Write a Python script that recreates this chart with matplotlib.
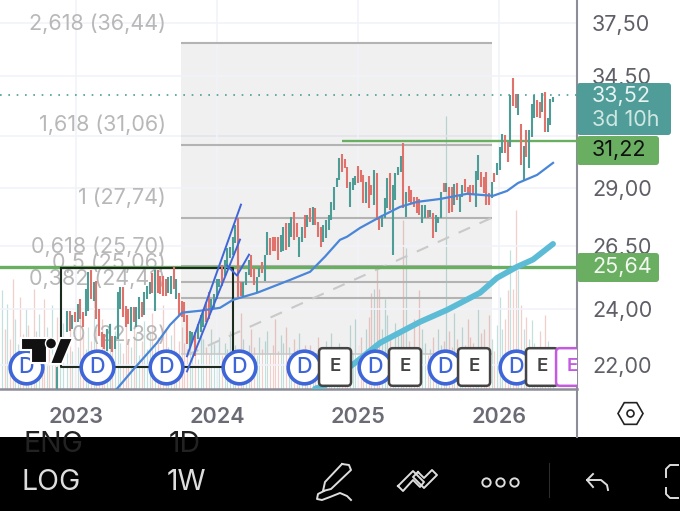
import numpy as np
import matplotlib
matplotlib.use('Agg')
import matplotlib.pyplot as plt
from matplotlib.patches import Polygon, Circle, FancyBboxPatch, Rectangle

plt.rcParams['font.family'] = ['Inter', 'DejaVu Sans']

# weekly bars
highs_a = [23.92,23.92,23.80,23.88,24.18,24.37,23.88,24.75,25.45,25.53,25.02,25.06,23.99,23.15,23.08,23.26,23.44,23.01,23.01,24.67,24.83,24.83,24.10,23.99,24.07,24.07,24.07,24.45,24.26,24.67,24.87,25.02,25.41,25.53,25.53,25.26,25.26,25.14,25.22,25.26,25.65,25.14,24.63,24.29,24.26]
lows_a = [23.15,23.19,23.26,23.51,23.51,23.62,23.33,23.73,23.92,24.37,24.29,23.62,23.01,22.62,22.55,22.48,22.55,22.45,22.55,22.90,23.99,23.69,23.33,23.44,23.19,23.51,23.33,23.62,23.69,23.80,24.37,24.56,24.63,23.92,24.63,24.56,24.48,24.48,24.63,24.56,24.75,24.37,23.73,23.69,23.51]
highs_b = [23.80,23.19,23.15,23.15,23.44,23.80,23.88,24.26,24.67,24.37,24.56,25.14,25.14,25.73,25.93,26.42,26.46,26.87,27.38,27.68,25.02,25.02,25.45,25.93,26.13,25.61,25.22,25.61,25.85,26.13,27.09,26.83,26.87,26.87,26.87,26.96,27.26,27.47,27.47,27.73,27.94,27.47,26.87,27.26,27.81,27.81]
lows_b = [22.72,22.62,22.79,22.30,22.90,23.15,23.33,23.51,23.62,23.88,23.99,24.37,24.83,24.87,25.26,25.61,26.01,26.13,26.62,24.45,24.48,24.48,24.94,25.33,25.22,24.94,24.63,25.22,25.41,25.06,26.13,26.13,26.26,26.26,25.93,26.22,26.26,26.34,26.46,26.87,26.75,26.87,26.05,26.67,26.83,27.26]
highs_c = [28.12,28.16,28.12,27.51,27.26,27.38,27.60,27.81,28.38,29.05,29.46,30.39,30.58,30.34,29.97,29.28,29.46,29.55,30.02,29.83,29.60,29.28,29.55,29.14,29.83,29.69,27.68,27.81,28.56,29.46,29.69,29.14,29.69,29.97,30.49,31.10,28.82,29.09,28.91,28.60,28.60,28.51,28.25,28.25,28.03]
lows_c = [27.51,27.38,27.38,26.87,26.46,26.67,26.83,27.17,27.60,28.03,29.05,29.37,29.74,29.92,29.00,28.16,28.91,29.14,29.23,29.28,28.34,28.34,28.12,28.69,28.25,27.60,27.17,27.26,27.68,28.12,28.03,26.13,28.47,29.60,29.74,28.12,27.73,28.38,28.34,28.16,27.90,27.81,27.47,27.68,27.68]
highs_d = [28.03,27.90,27.81,27.73,28.82,29.23,29.23,29.05,29.05,29.18,29.23,28.69,29.14,29.42,29.05,29.14,29.14,29.78,30.53,29.74,29.51,29.74,28.78,29.28,29.69,30.16,30.91,31.54,31.49,31.15,33.52,34.42,33.57,33.57,32.04,30.96,31.74,31.74,33.05,33.52,33.26,33.16,33.63,33.68,32.34,33.31,33.42]
lows_d = [27.73,26.83,27.05,27.47,27.68,28.82,28.82,27.90,27.94,28.25,28.47,27.94,28.60,28.82,28.69,28.38,28.69,28.16,29.37,29.05,28.78,28.25,28.25,28.56,29.28,29.60,29.83,30.63,30.63,30.20,30.91,32.95,32.85,32.50,30.06,29.37,30.44,29.92,31.40,32.34,32.39,32.34,32.65,31.64,31.64,31.99,33.16]
highs = highs_a + highs_b + highs_c + highs_d
lows = lows_a + lows_b + lows_c + lows_d
directions = ("grgrgrrggr" "grrrrggrgg" "grrrgrggrg" "ggrgrrrrgg" "rgrrr"
              "rggrg" "ggrrggggrg" "ggggrrgggr" "rggrggrrrr" "ggrggrrggr" "g"
              "rgrrrgggg" "gggrrrgggr" "rrgrrgrrgg" "grggggrgrr" "rrrggr"
              "grgg" "grgrrgrggr" "rrrggrrrrg" "rgggrrgrrg" "rgrgggrrgr" "ggg")
volumes = [45,60,38,50,42,75,55,40,62,48,90,60,35,70,52,44,66,38,58,80,46,36,72,50,42,64,56,34,48,68,40,58,76,44,52,36,84,60,42,54,70,38,48,62,46,
           40,55,35,48,30,65,50,42,35,60,45,38,52,34,46,40,58,32,44,36,76,50,38,44,60,42,34,52,40,48,58,36,44,70,38,54,46,62,42,34,50,40,56,36,44,30,
           44,38,30,52,36,42,48,34,56,40,34,46,30,38,42,64,36,70,44,52,34,60,72,96,100,124,100,60,90,74,52,40,66,56,60,169,141,48,40,70,38,99,60,46,34,
           40,52,36,60,44,48,273,58,42,76,50,38,62,44,70,52,46,34,80,56,60,42,74,50,38,64,92,60,70,99,139,100,179,119,84,60,72,50,69,46,40,58,36,74,48,30,22]
first_year, last_year = 2022.936, 2026.383

# older volume, before the first visible bar
lead_first, lead_last = 2022.475, 2022.905
lead_volumes = [99,60,85,50,110,70,45,92,55,80,64,40,100,58,75,48,90,62,52,84,44,72,96,66]
lead_directions = "grgrrggrrgrgrggrrgrgrrgg"

# moving averages
ma_thin_x = [2023.291,2023.404,2023.574,2023.667,2023.752,2023.879,2024.021,2024.113,2024.284,2024.518,2024.660,2024.766,2024.872,
             2024.922,2025.014,2025.156,2025.298,2025.418,2025.582,2025.773,2025.957,2026.057,2026.135,2026.270,2026.383]
ma_thin = [21.20,21.83,22.77,23.42,23.87,23.94,24.05,24.35,24.62,25.12,25.44,26.05,26.74,26.87,27.24,27.71,28.15,28.37,28.50,28.73,28.64,28.86,29.22,29.59,30.15]
ma_thick_x = [2024.695,2024.766,2024.979,2025.156,2025.440,2025.631,2025.865,2025.986,2026.128,2026.241,2026.383]
ma_thick = [21.20,21.31,22.07,22.77,23.53,23.97,24.62,25.20,25.64,25.93,26.57]

# fibonacci tool
fib_labels = ['2,618 (36,44)', '1,618 (31,06)', '1 (27,74)', '0,618 (25,70)', '0,5 (25,06)', '0,382 (24,41)', '0 (22,38)']
fib_prices = [36.33, 31.01, 27.67, 25.66, 25.02, 24.41, 22.37]
fib_start, fib_end = 2023.745, 2025.950

# other drawings
support_price, resistance_price = 25.64, 31.22
resistance_start = 2024.887
last_price = 33.52
box_x = [2022.894, 2024.113, 2024.113, 2022.894, 2022.894]
box_y = [25.61, 25.61, 21.93, 21.93, 25.61]
dash_x, dash_y = [2023.787, 2025.943], [22.34, 27.66]
channel_up_x, channel_up_y = [2023.787, 2024.170], [22.30, 28.25]
channel_low_x, channel_low_y = [2023.787, 2024.163], [21.78, 26.75]
check_x, check_y = [2024.071, 2024.142, 2024.227], [25.69, 25.29, 26.13]

# events on the time axis
event_price = 21.93
dividends = [2022.645, 2023.149, 2023.638, 2024.156, 2024.617, 2025.121, 2025.617, 2026.121]
earnings = [2024.837, 2025.333, 2025.823, 2026.305]
next_earnings = 2026.518

year_ticks = [2023, 2024, 2025, 2026]
price_ticks = [37.5, 34.5, 29.0, 26.5, 24.0, 22.0]
price_tick_labels = ['37,50', '34,50', '29,00', '26,50', '24,00', '22,00']

W, H = 680, 511
RED, TEAL = '#e0716b', '#4e9c96'
BLUE = '#3f66d9'
GRID = '#f1f3f9'
GREEN = '#6aae62'
ICON = '#dddddd'

fig = plt.figure(figsize=(W / 100, H / 100), dpi=100, facecolor='white')
rect = [0, (H - 389) / H, 577 / W, 389 / H]

# volume goes under the main axes
vol_ax = fig.add_axes(rect, zorder=1)
ax = fig.add_axes(rect, zorder=2)
ax.patch.set_visible(False)

x_lim = (2022.461, 2026.553)
bar_x = np.linspace(first_year, last_year, len(highs))
lead_x = np.linspace(lead_first, lead_last, len(lead_volumes))

vol_ax.set_xlim(x_lim)
vol_ax.set_ylim(0, 389)
vol_ax.axis('off')
vol_colors = ['#f3cfcc' if d == 'r' else '#c3e0dd' for d in directions]
lead_colors = ['#f3cfcc' if d == 'r' else '#c3e0dd' for d in lead_directions]
vol_ax.vlines(bar_x, 0, volumes, colors=vol_colors, lw=0.9)
vol_ax.vlines(lead_x, 0, lead_volumes, colors=lead_colors, lw=0.9)

ax.set_yscale('log')
ax.set_xlim(x_lim)
ax.set_ylim(21.19, 38.87)
ax.set_xticks(year_ticks)
ax.set_xticklabels([str(y) for y in year_ticks], fontsize=15.5, fontweight='semibold', color='#6b6b76')
ax.yaxis.tick_right()
ax.set_yticks(price_ticks)
ax.set_yticklabels(price_tick_labels, fontsize=15.5, color='#5f5f68')
ax.minorticks_off()
ax.tick_params(axis='y', which='both', length=0, pad=10.8)
ax.tick_params(axis='x', length=0, pad=13)
ax.grid(True, color=GRID, lw=1.2, zorder=0)
ax.axhline(31.45, color=GRID, lw=1.2, zorder=0)
for side in ['top', 'left']:
    ax.spines[side].set_visible(False)
ax.spines['right'].set_color('#8d8d98')
ax.spines['right'].set_linewidth(1.5)
ax.spines['bottom'].set_color('#8d8d98')
ax.spines['bottom'].set_linewidth(1.8)

# fib box
ax.fill_between([fib_start, fib_end], fib_prices[-1], fib_prices[0], color='black', alpha=0.06, lw=0, zorder=1)
ax.hlines(fib_prices[:-1], fib_start, fib_end, colors='#b3b3b3', lw=1.5, zorder=2)
ax.hlines(fib_prices[-1], fib_start, fib_end, colors='#c9c9c9', lw=1.2, zorder=2)
for label, price in zip(fib_labels, fib_prices):
    ax.annotate(label, xy=(2023.64, price), xytext=(0, 14.4), textcoords='offset points',
                ha='right', va='center', fontsize=15.5, color='#b8b8b8', zorder=3)

ax.plot(dash_x, dash_y, color='#c9c9c9', lw=1.5, dashes=(6, 5), zorder=2)
ax.axhline(support_price, color=GREEN, lw=2.4, zorder=3)
ax.plot(box_x, box_y, color='#1d2b1f', lw=1.5, zorder=3.5)
ax.hlines(resistance_price, resistance_start, x_lim[1], color=GREEN, lw=1.7, zorder=3)
ax.axhline(last_price, color=TEAL, lw=1.2, ls=(0, (1, 4)), zorder=3)

# bars
bar_colors = [RED if d == 'r' else TEAL for d in directions]
ax.vlines(bar_x, lows, highs, colors=bar_colors, lw=1.5, zorder=4)
ax.vlines(2022.865, 21.19, 21.93, colors=TEAL, lw=1.5, zorder=4)

ax.plot(ma_thin_x, ma_thin, color='#4a86d8', lw=1.6, zorder=5)
ax.plot(ma_thick_x, ma_thick, color='#5cbcd6', lw=4.2, solid_capstyle='round', zorder=5)
ax.plot(channel_up_x, channel_up_y, color=BLUE, lw=1.4, zorder=5)
ax.plot(channel_low_x, channel_low_y, color=BLUE, lw=1.4, zorder=5)
ax.plot(check_x, check_y, color=BLUE, lw=1.4, zorder=5)

# event badges
for year in dividends:
    ax.plot(year, event_price, 'o', ms=23.5, mfc='white', mec=BLUE, mew=2.6, zorder=6, clip_on=False)
    ax.text(year, event_price, 'D', fontsize=15.5, color=BLUE, ha='center', va='center', fontweight='medium', zorder=6)
for year in earnings:
    ax.text(year, event_price, 'E', fontsize=13.5, color='#444444', ha='center', va='center', fontweight='semibold', zorder=7,
            bbox=dict(boxstyle='round,pad=0.55,rounding_size=0.2', fc='white', ec='#444444', lw=1.8))
ax.text(next_earnings, event_price, 'E', fontsize=13.5, color='#c45ae0', ha='center', va='center', fontweight='semibold', zorder=7,
        clip_on=True, bbox=dict(boxstyle='round,pad=0.55,rounding_size=0.2', fc='white', ec='#c45ae0', lw=1.8))

# the app's own interface, in pixels
ui = fig.add_axes([0, 0, 1, 1], zorder=3)
ui.set_xlim(0, W)
ui.set_ylim(H, 0)
ui.axis('off')
ui.patch.set_visible(False)

# logo
logo = dict(fc='#111111', ec='white', lw=1.5, joinstyle='miter')
ui.add_patch(Polygon([(21, 338), (47, 338), (47, 363), (31, 363), (31, 350), (21, 350)], **logo))
ui.add_patch(Polygon([(60, 338), (73, 338), (62, 364), (50, 364)], **logo))
ui.add_patch(Circle((51, 343.5), 5.5, fc='#111111', ec='white', lw=1))

# price tags
ui.add_patch(FancyBboxPatch((577, 83), 94, 52, boxstyle='round,pad=0,rounding_size=3', fc='#4f9c98', ec='none'))
ui.add_patch(FancyBboxPatch((577, 136), 82, 29, boxstyle='round,pad=0,rounding_size=3', fc=GREEN, ec='none'))
ui.add_patch(FancyBboxPatch((577, 253), 82, 29, boxstyle='round,pad=0,rounding_size=3', fc=GREEN, ec='none'))
ui.text(592, 96, '33,52', fontsize=15.5, color='#e6f3f1', va='center')
ui.text(592, 120, '3d 10h', fontsize=15.5, color='#cfe7e3', va='center')
ui.text(592, 150, '31,22', fontsize=15.5, color='#111111', va='center')
ui.text(592, 267, '25,64', fontsize=15.5, color='#f2f8f0', va='center')

# bottom strip
ui.add_patch(Rectangle((0, 437), W, H - 437, fc='black', ec='none'))
ui.plot([577, 577], [389, 437], color='#8d8d98', lw=1.5)
ui.plot(630, 413, 'H', ms=18, mfc='none', mec='#222222', mew=1.2)
ui.plot(630, 413, 'o', ms=5, mfc='none', mec='#222222', mew=1.2)
ui.text(23, 445, 'ENG', fontsize=20.5, color='#222222', va='center')
ui.text(169, 445, '1D', fontsize=20.5, color='#222222', va='center')
ui.text(22, 482, 'LOG', fontsize=20.5, color=ICON, va='center')
ui.text(167, 482, '1W', fontsize=20.5, color=ICON, va='center')

# pen
ui.plot([342, 349, 351, 331, 323, 325, 342], [464, 465, 470, 489, 491, 482, 464], color=ICON, lw=1.4)
ui.plot([324, 318, 317, 322, 330, 340, 347, 351], [491, 494, 499, 500, 497, 493, 496, 500], color=ICON, lw=1.4)
# chevrons
ui.plot([398, 413, 424, 420, 413, 403, 398], [486, 471, 482, 487, 480, 491, 486], color=ICON, lw=1.4)
ui.plot([418, 424, 432, 437, 424, 413, 418], [472, 478, 470, 475, 488, 477, 472], color=ICON, lw=1.4)
# more
for cx in [486, 500, 514]:
    ui.plot(cx, 482, 'o', ms=6, mfc='none', mec=ICON, mew=1.4)
ui.plot([549, 549], [463, 497], color='#2b2b2b', lw=0.8)
# back arrow
ui.plot([593, 587, 593], [474, 480, 487], color=ICON, lw=1.4)
ui.plot([587, 601, 607, 608], [480, 480, 485, 490], color=ICON, lw=1.4)
# corners
ui.plot([678, 670, 666, 666], [465, 465, 469, 477], color=ICON, lw=1.4)
ui.plot([678, 670, 666, 666], [498, 498, 494, 488], color=ICON, lw=1.4)

fig.savefig('out.png', dpi=100, facecolor='white')
